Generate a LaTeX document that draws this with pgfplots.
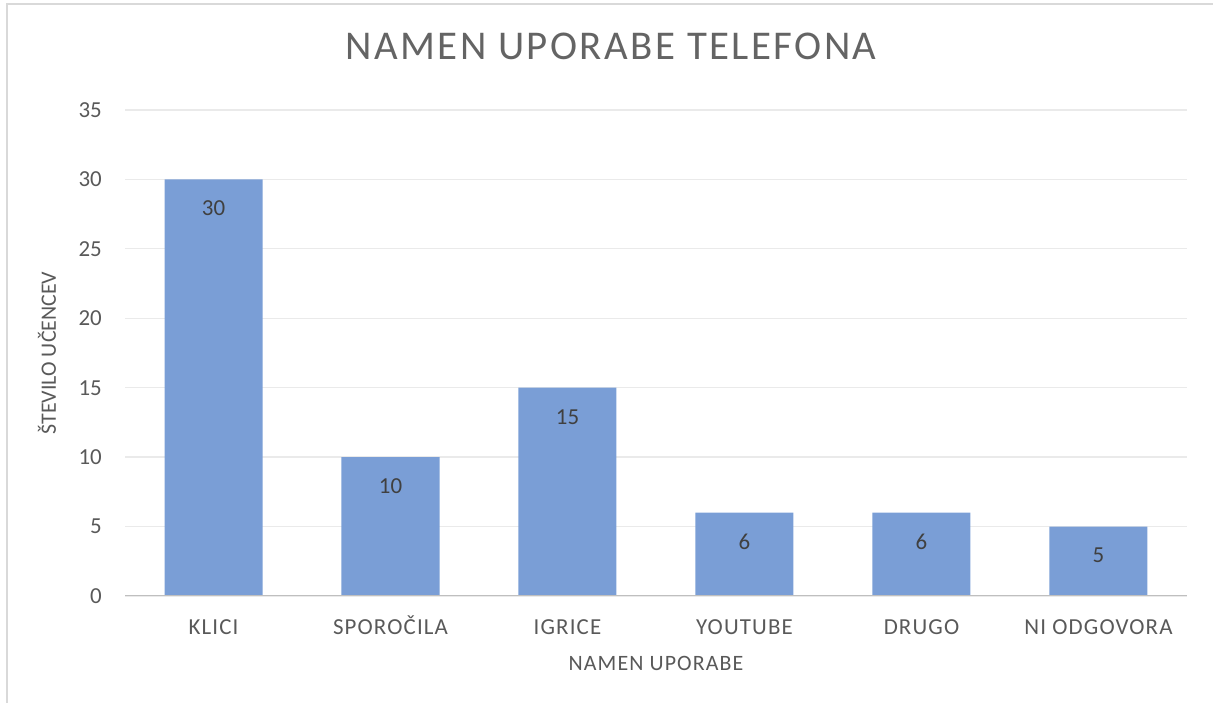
\documentclass[border=0pt]{standalone}
\usepackage{fontspec}
\setmainfont{Carlito}
\usepackage{pgfplots}
\pgfplotsset{compat=1.18}
\definecolor{barc}{RGB}{122,158,214}
\definecolor{txt}{RGB}{89,89,89}
\definecolor{ttl}{RGB}{100,100,100}
\definecolor{lbl}{RGB}{64,64,64}
\definecolor{gridc}{RGB}{234,234,234}
\definecolor{axl}{RGB}{191,191,191}
\definecolor{brd}{RGB}{217,217,217}
\newcommand\spfont[1]{\fontsize{#1}{#1}\selectfont\addfontfeatures{LetterSpace=5}}
\begin{document}
\begin{tikzpicture}[x=1bp,y=1bp]
\useasboundingbox (0,0) rectangle (1213,703);
\draw[brd, line width=2bp] (6.5,-10) |- (1230,698.5);
\begin{axis}[
  at={(125bp,107bp)}, anchor=south west,
  scale only axis, width=1062bp, height=486bp,
  ymin=0, ymax=35, ytick={0,5,...,35},
  xmin=-0.5, xmax=5.5, xtick={0,...,5},
  xticklabels={KLICI,SPORO\v{C}ILA,IGRICE,YOUTUBE,DRUGO,NI ODGOVORA},
  ybar, bar width=98bp,
  axis line style={draw=none},
  major tick length=0pt,
  ymajorgrids, grid style={gridc, line width=1.3bp},
  /pgf/number format/assume math mode=true,
  yticklabel style={font=\fontsize{23}{26}\selectfont, text=txt, anchor=east, inner sep=0pt, xshift=-23bp},
  xticklabel style={font=\spfont{23}, text=txt, anchor=base, inner sep=0pt, yshift=-39bp},
  title={NAMEN UPORABE TELEFONA},
  title style={at={([yshift=45bp,xshift=-45bp]axis description cs:0.5,1)}, anchor=base, font=\fontsize{41}{41}\selectfont\addfontfeatures{LetterSpace=6}, text=ttl, inner sep=0pt},
  xlabel={NAMEN UPORABE},
  xlabel style={at={([yshift=-75bp]axis description cs:0.5,0)}, anchor=base, font=\spfont{22}, text=txt, inner sep=0pt},
  ylabel={ŠTEVILO UČENCEV},
  every axis y label/.style={at={([xshift=-78bp]axis description cs:0,0.5)}, rotate=90, anchor=center, font=\fontsize{22}{22}\selectfont, text=txt, inner sep=0pt},
  nodes near coords,
  every node near coord/.append style={anchor=center, yshift=-29bp, font=\fontsize{23}{26}\selectfont, text=lbl},
]
\addplot[fill=barc, draw=none] coordinates {(0,30) (1,10) (2,15) (3,6) (4,6) (5,5)};
\draw[axl, line width=2.2bp] (axis cs:-0.5,0) -- (axis cs:5.5,0);
\end{axis}
\end{tikzpicture}
\end{document}
